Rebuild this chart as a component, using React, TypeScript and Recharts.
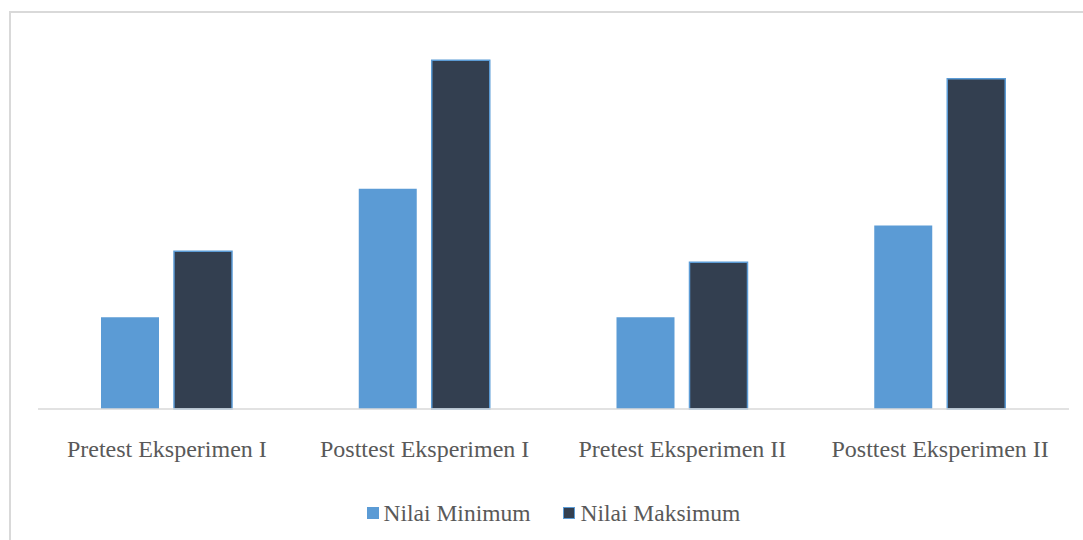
import { BarChart, Bar, XAxis, YAxis, Legend } from "recharts";

const categories = [
  "Pretest Eksperimen I",
  "Posttest Eksperimen I",
  "Pretest Eksperimen II",
  "Posttest Eksperimen II",
];
const nilaiMinimum = [25, 60, 25, 50];
const nilaiMaksimum = [43, 95, 40, 90];

const data = categories.map((name, i) => ({
  name,
  min: nilaiMinimum[i],
  max: nilaiMaksimum[i],
}));

const FONT = '"Liberation Serif", "Times New Roman", serif';

const legendItems = [
  { label: "Nilai Minimum", fill: "#5b9bd5", stroke: "#5b9bd5" },
  { label: "Nilai Maksimum", fill: "#333f50", stroke: "#5b9bd5" },
];

function ChartLegend() {
  return (
    <div
      style={{
        height: 59,
        paddingTop: 8,
        boxSizing: "border-box",
        display: "flex",
        justifyContent: "center",
        fontFamily: FONT,
        fontSize: 23.5,
        color: "#595959",
        lineHeight: "26px",
      }}
    >
      {legendItems.map((it, i) => (
        <div
          key={it.label}
          style={{ display: "flex", alignItems: "center", marginLeft: i ? 33 : 0 }}
        >
          <span
            style={{
              width: 12,
              height: 12,
              boxSizing: "border-box",
              background: it.fill,
              border: `1px solid ${it.stroke}`,
              marginRight: 5,
              display: "inline-block",
            }}
          />
          <span style={{ fontFamily: FONT }}>{it.label}</span>
        </div>
      ))}
    </div>
  );
}

export default function App() {
  return (
    <div
      style={{
        position: "fixed",
        left: 9,
        top: 11,
        width: 1100,
        height: 560,
        border: "2px solid #d9d9d9",
        background: "#fff",
      }}
    >
      <BarChart
        width={1072}
        height={525}
        data={data}
        margin={{ top: 29, right: 14, left: 27, bottom: 0 }}
        barSize={58}
        barGap={15}
      >
        <XAxis
          dataKey="name"
          height={70}
          tickLine={false}
          axisLine={{ stroke: "#d9d9d9", strokeWidth: 1.5 }}
          tickMargin={25}
          tick={{ fill: "#595959", fontSize: 24, fontFamily: FONT }}
          interval={0}
        />
        <YAxis hide domain={[0, 100]} />
        <Legend verticalAlign="bottom" content={<ChartLegend />} />
        <Bar dataKey="min" name="Nilai Minimum" fill="#5b9bd5" isAnimationActive={false} />
        <Bar
          dataKey="max"
          name="Nilai Maksimum"
          fill="#333f50"
          stroke="#5b9bd5"
          strokeWidth={1.5}
          isAnimationActive={false}
        />
      </BarChart>
    </div>
  );
}
